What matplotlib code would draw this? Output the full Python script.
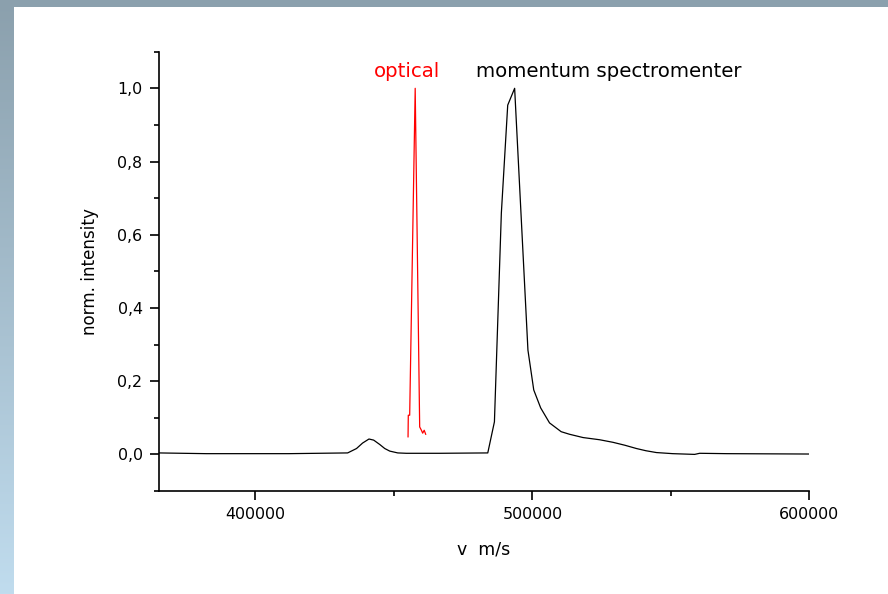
import numpy as np
import matplotlib
matplotlib.use("Agg")
import matplotlib.pyplot as plt
from matplotlib.ticker import FuncFormatter, MultipleLocator

plt.rcParams["font.family"] = ["DejaVu Sans"]

# momentum spectrometer trace
v_mom = [365000, 382300, 412000, 433300, 436500, 438700, 441000, 442700, 444900,
         446700, 448500, 451400, 454500, 466500, 483900, 486300, 488800, 491100,
         493600, 498400, 500500, 503000, 506200, 510400, 513400, 518300, 524300,
         529100, 533400, 537600, 541000, 544800, 550700, 558600, 560400, 570200,
         600000]
i_mom = [0.004, 0.002, 0.002, 0.004, 0.016, 0.031, 0.042, 0.039, 0.027,
         0.016, 0.009, 0.004, 0.003, 0.003, 0.004, 0.089, 0.659, 0.954,
         1.0, 0.285, 0.176, 0.127, 0.086, 0.062, 0.055, 0.046, 0.040,
         0.033, 0.025, 0.016, 0.010, 0.005, 0.002, 0.0, 0.003, 0.002,
         0.001]

# optical trace
v_opt = [455110, 455200, 455700, 457690, 459310, 459930, 460400, 460940, 461480]
i_opt = [0.048, 0.107, 0.107, 1.0, 0.075, 0.066, 0.058, 0.066, 0.055]

y_ticks = [0.0, 0.2, 0.4, 0.6, 0.8, 1.0]
x_ticks = [400000, 500000, 600000]

fig = plt.figure(figsize=(8.88, 5.94), dpi=100)
fig.patch.set_facecolor("white")

# slide-style frame: top band and left gradient strip
top = fig.add_axes([0, 1 - 7 / 594, 1, 7 / 594])
top.set_axis_off()
top.add_patch(plt.Rectangle((0, 0), 1, 1, color="#8ba0ad", transform=top.transAxes))
side = fig.add_axes([0, 0, 14 / 888, 1])
c0 = np.array([0x8b, 0xa0, 0xad]) / 255
c1 = np.array([0xc0, 0xdc, 0xee]) / 255
t = np.linspace(0, 1, 256)[:, None]
grad = (c0 * (1 - t) + c1 * t)[:, None, :]
side.imshow(grad, aspect="auto", extent=[0, 1, 0, 1], origin="upper")
side.set_axis_off()

ax = fig.add_axes([158.5 / 888, 103 / 594, 650.8 / 888, 439.3 / 594])
ax.plot(v_mom, i_mom, color="black", lw=0.9)
ax.plot(v_opt, i_opt, color="#ff0000", lw=0.9)

ax.set_xlim(365000, 600000)
ax.set_ylim(-0.1, 1.1)
ax.set_xticks(x_ticks)
ax.set_yticks(y_ticks)
ax.xaxis.set_minor_locator(MultipleLocator(50000))
ax.yaxis.set_minor_locator(MultipleLocator(0.1))
ax.xaxis.set_major_formatter(FuncFormatter(lambda x, p: f"{int(x)}"))
ax.yaxis.set_major_formatter(FuncFormatter(lambda y, p: f"{y:.1f}".replace(".", ",")))

for s in ["top", "right"]:
    ax.spines[s].set_visible(False)
for s in ["left", "bottom"]:
    ax.spines[s].set_linewidth(1.2)
ax.tick_params(which="major", direction="out", length=6.5, width=1.2, labelsize=11.4, pad=5)
ax.tick_params(which="minor", direction="out", length=3.5, width=1.2)

ax.set_xlabel("v  m/s", fontsize=12.5, labelpad=13)
ax.set_ylabel("norm. intensity", fontsize=12.1, labelpad=13)

ax.text(442700, 1.032, "optical", color="#ff0000", fontsize=14.2, va="baseline")
ax.text(479500, 1.032, "momentum spectromenter", color="black", fontsize=14.2, va="baseline")

fig.savefig("out.png", dpi=100)
